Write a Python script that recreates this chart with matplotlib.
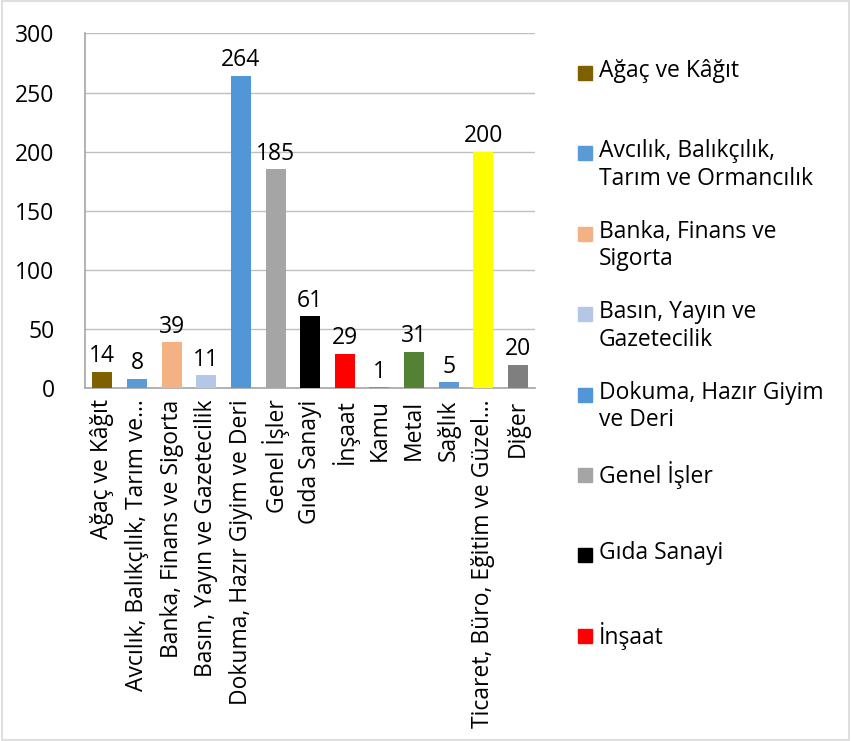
import matplotlib
matplotlib.use('Agg')
from matplotlib import pyplot as plt
from matplotlib.patches import Rectangle

plt.rcParams['font.family'] = ['Open Sans', 'DejaVu Sans']

# categories as they appear under the bars (Excel truncates two of them)
tick_labels = ['Ağaç ve Kâğıt', 'Avcılık, Balıkçılık, Tarım ve...',
               'Banka, Finans ve Sigorta', 'Basın, Yayın ve Gazetecilik',
               'Dokuma, Hazır Giyim ve Deri', 'Genel İşler', 'Gıda Sanayi',
               'İnşaat', 'Kamu', 'Metal', 'Sağlık',
               'Ticaret, Büro, Eğitim ve Güzel...', 'Diğer']
values = [14, 8, 39, 11, 264, 185, 61, 29, 1, 31, 5, 200, 20]
colors = ['#7F6000', '#5B9BD5', '#F4B183', '#B4C7E7', '#5196D6', '#A5A5A5',
          '#000000', '#FF0000', '#5B9BD5', '#548235', '#5B9BD5', '#FFFF00',
          '#7F7F7F']

# legend only shows the first eight entries
legend_labels = ['Ağaç ve Kâğıt', 'Avcılık, Balıkçılık,\nTarım ve Ormancılık',
                 'Banka, Finans ve\nSigorta', 'Basın, Yayın ve\nGazetecilik',
                 'Dokuma, Hazır Giyim\nve Deri', 'Genel İşler', 'Gıda Sanayi',
                 'İnşaat']

FS = 16.5

fig = plt.figure(figsize=(8.51, 7.41), dpi=100)
ax = fig.add_axes([0.100, 0.476, 0.529, 0.479])

x = range(len(values))
bars = ax.bar(x, values, width=0.58, color=colors, zorder=3)

for rect, v in zip(bars, values):
    ax.text(rect.get_x() + rect.get_width() / 2, v + 3, str(v),
            ha='center', va='bottom', fontsize=FS)

ax.set_xlim(-0.5, len(values) - 0.5)
ax.set_ylim(0, 300)
ax.set_yticks(range(0, 301, 50))
ax.grid(axis='y', color='#BFBFBF', linewidth=1.0, zorder=0)
ax.set_xticks(list(x))
ax.set_xticklabels(tick_labels, rotation=90, fontsize=FS)
ax.tick_params(axis='x', length=0, pad=8)
ax.tick_params(axis='y', length=0, pad=22, labelsize=FS)

for s in ['top', 'right']:
    ax.spines[s].set_visible(False)
for s in ['left', 'bottom']:
    ax.spines[s].set_color('#A6A6A6')
    ax.spines[s].set_linewidth(1.2)

# hand-placed legend to mimic Excel (square aligned with first line)
W, H = 851, 741
for i, (lab, c) in enumerate(zip(legend_labels, colors[:8])):
    yc = 73 + i * 80.4
    fig.patches.append(Rectangle((578 / W, 1 - (yc + 7) / H), 14 / W, 14 / H,
                                 transform=fig.transFigure, color=c))
    fig.text(599 / W, 1 - (yc - 14) / H, lab, fontsize=FS, va='top',
             ha='left', linespacing=1.2)

fig.patches.append(Rectangle((0.002, 0.002), 0.996, 0.996,
                             transform=fig.transFigure, fill=False,
                             edgecolor='#D9D9D9', linewidth=1.2))

fig.savefig('out.png', dpi=100)
